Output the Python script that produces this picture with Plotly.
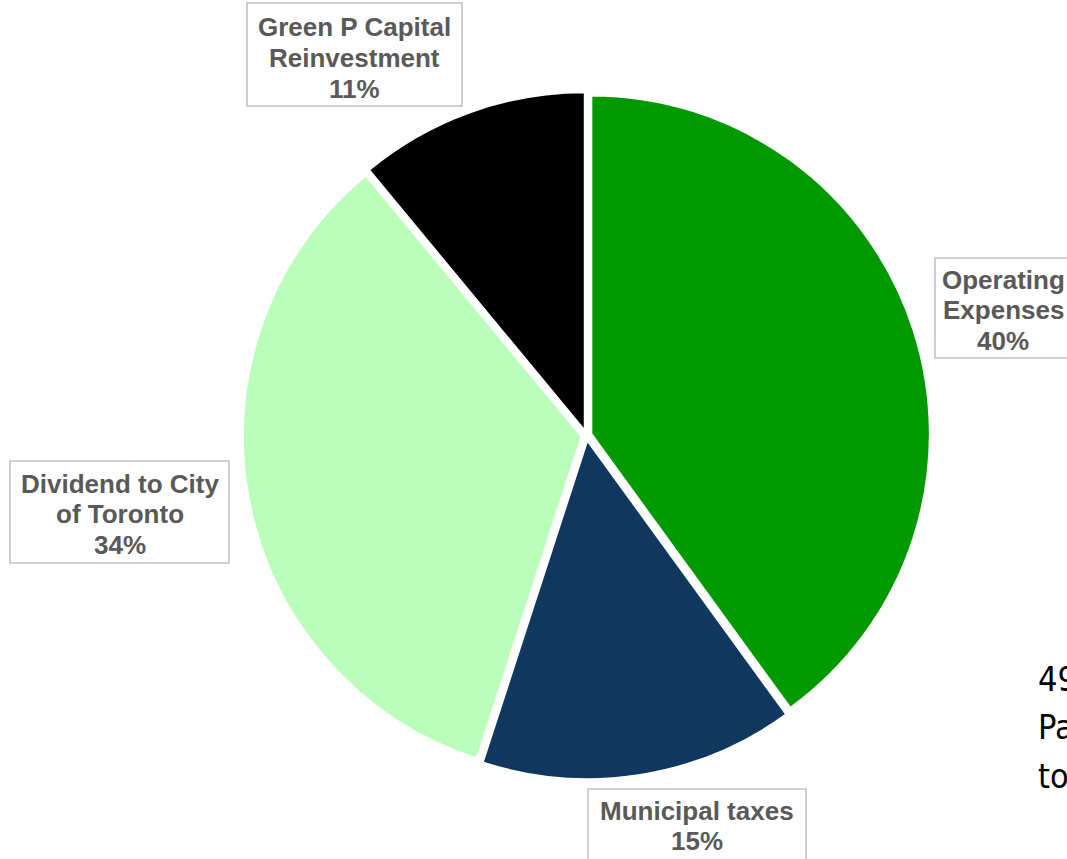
import plotly.graph_objects as go

# ---- data ----
categories = ["Operating Expenses", "Municipal taxes", "Dividend to City of Toronto", "Green P Capital Reinvestment"]
values = [40, 15, 34, 11]
colors = ["#009900", "#10375F", "#B9FFB9", "#000000"]
label_lines = [["Operating", "Expenses"], ["Municipal taxes"], ["Dividend to City", "of Toronto"], ["Green P Capital", "Reinvestment"]]
side_text = ["49% of net", "Parking revenue", "to the City"]

# ---- layout geometry (pixels) ----
W, H = 1067, 859
boxes = [(935, 258, 1071, 358), (588, 789, 806, 863), (10, 461, 229, 563), (247, 3, 462, 106)]
text_cy = [310, 826, 514, 58]
LINE = 30.5
FONT = 26
GRAY = "#595959"
BORDER = "#BFBFBF"

cx, cy, R = 586.5, 435.5, 343.6  # pie centre and outer extent incl. pull


def px_x(x):
    return x / W


def px_y(y):
    return 1 - y / H


fig = go.Figure(go.Pie(
    labels=categories,
    values=values,
    sort=False,
    direction="clockwise",
    rotation=0,
    marker=dict(colors=colors, line=dict(color="white", width=2)),
    pull=[0.015] * len(values),
    textinfo="none",
    hoverinfo="label+percent",
    domain=dict(x=[px_x(cx - R), px_x(cx + R)], y=[px_y(cy + R), px_y(cy - R)]),
))

shapes = []
annotations = []
for i, (l, t, r, b) in enumerate(boxes):
    shapes.append(dict(type="rect", xref="paper", yref="paper",
                       x0=px_x(l), x1=px_x(r), y0=px_y(b), y1=px_y(t),
                       line=dict(color=BORDER, width=1.5), fillcolor="white", layer="above"))
    lines = label_lines[i] + [f"{values[i]}%"]
    n = len(lines)
    xc = (l + r) / 2
    for k, s in enumerate(lines):
        yy = text_cy[i] + (k - (n - 1) / 2) * LINE
        annotations.append(dict(text=s, x=px_x(xc), y=px_y(yy), xref="paper", yref="paper",
                                xanchor="center", yanchor="middle", showarrow=False,
                                font=dict(family="Liberation Sans, Arial, sans-serif", size=FONT,
                                          color=GRAY, weight="bold")))

side_y = [679, 727, 776]
for s, yy in zip(side_text, side_y):
    annotations.append(dict(text=s, x=px_x(1036), y=px_y(yy), xref="paper", yref="paper",
                            xanchor="left", yanchor="middle", showarrow=False,
                            font=dict(family="Liberation Sans Narrow, Arial Narrow, DejaVu Sans Condensed, sans-serif",
                                      size=34, color="#000000")))

fig.update_layout(
    width=W, height=H,
    margin=dict(l=0, r=0, t=0, b=0),
    paper_bgcolor="white", plot_bgcolor="white",
    showlegend=False,
    shapes=shapes,
    annotations=annotations,
)

fig.write_html("out.html")
